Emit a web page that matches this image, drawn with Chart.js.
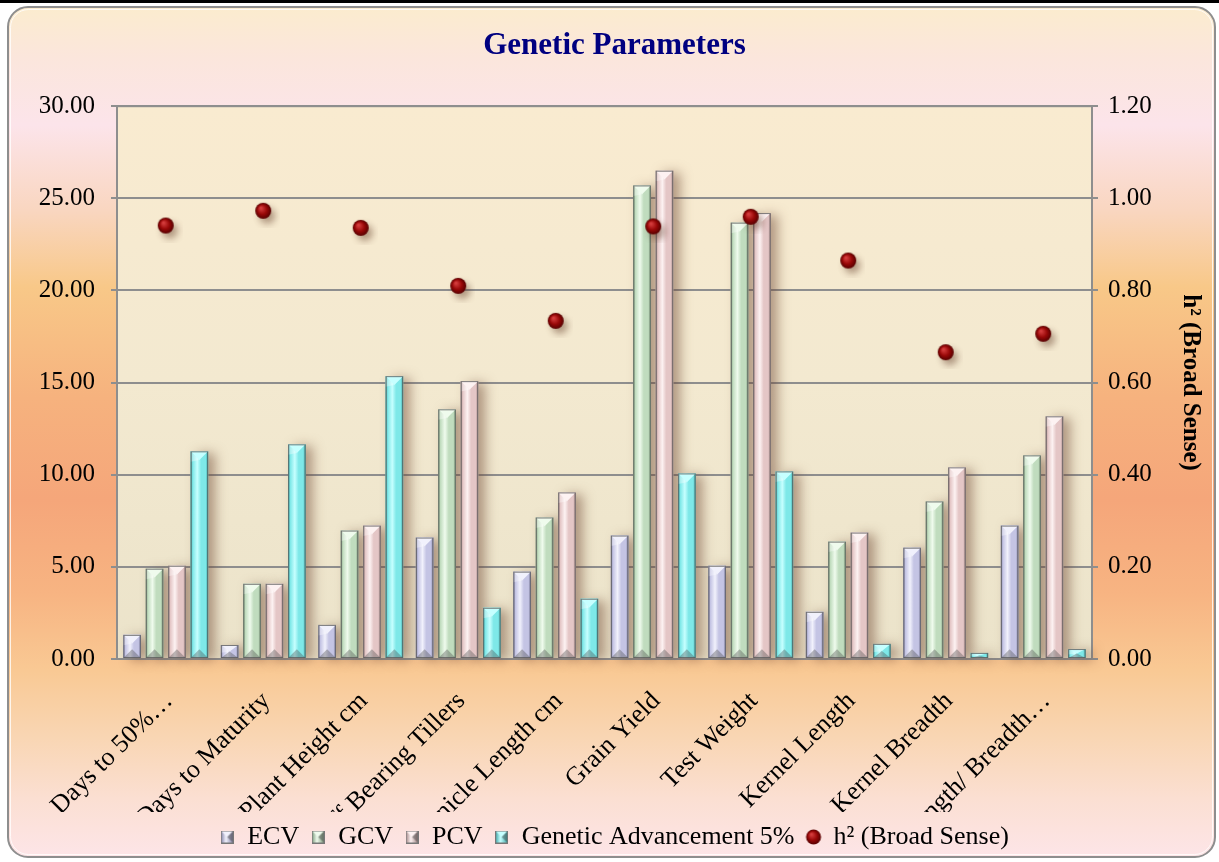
<!DOCTYPE html>
<html><head><meta charset="utf-8">
<script src="https://cdn.jsdelivr.net/npm/chart.js@4.4.1/dist/chart.umd.min.js"></script>
<style>html,body{margin:0;padding:0;background:#fff;}#wrap{width:1219px;height:862px;position:relative;}</style>
</head><body><div id="wrap"><canvas id="c" width="1219" height="862"></canvas></div>
<script>
const categories = ["Days to 50%\u2026", "Days to Maturity", "Plant Height cm", "Eff Bearing Tillers", "Panicle Length cm", "Grain Yield", "Test Weight", "Kernel Length", "Kernel Breadth", "Length/ Breadth\u2026"];
const ecv = [1.31, 0.76, 1.85, 6.59, 4.74, 6.70, 5.06, 2.56, 6.04, 7.24];
const gcv = [4.90, 4.08, 6.97, 13.55, 7.68, 25.70, 23.68, 6.37, 8.55, 11.05];
const pcv = [5.06, 4.08, 7.24, 15.08, 9.04, 26.50, 24.20, 6.86, 10.40, 13.17];
const ga5 = [11.27, 11.65, 15.35, 2.78, 3.27, 10.07, 10.18, 0.82, 0.33, 0.54];
const h2 = [0.941, 0.973, 0.936, 0.810, 0.734, 0.939, 0.960, 0.865, 0.666, 0.706];
const seriesNames = ["ECV", "GCV", "PCV", "Genetic Advancement 5%", "h\u00B2 (Broad Sense)"];

const SERIF = '"Liberation Serif", "Times New Roman", serif';
const barPal = [
  {light:'#f1f1fc', mid:'#c4c4e4', dark:'#7c7ca2'},
  {light:'#effbed', mid:'#c0dcbe', dark:'#749474'},
  {light:'#fdf2f2', mid:'#e4c6c6', dark:'#9c7e7e'},
  {light:'#c6ffff', mid:'#7ee8e8', dark:'#34a0a0'}
];

function sphere(size, r, withShadow){
  const c=document.createElement('canvas'); c.width=c.height=size;
  const g=c.getContext('2d'); const cx=size/2, cy=size/2;
  g.save();
  if(withShadow){ g.shadowColor='rgba(90,50,30,0.45)'; g.shadowBlur=7; g.shadowOffsetX=4; g.shadowOffsetY=5; }
  const rg=g.createRadialGradient(cx-r*0.3, cy-r*0.35, r*0.1, cx, cy, r);
  rg.addColorStop(0,'#d43c3c'); rg.addColorStop(0.55,'#980808'); rg.addColorStop(1,'#560000');
  g.fillStyle=rg; g.beginPath(); g.arc(cx,cy,r,0,Math.PI*2); g.fill(); g.restore();
  return c;
}
function squareIcon(p){
  const s=13, c=document.createElement('canvas'); c.width=c.height=s;
  const g=c.getContext('2d');
  const gr=g.createLinearGradient(0,0,s,0);
  gr.addColorStop(0,p.dark); gr.addColorStop(0.4,p.light); gr.addColorStop(1,p.dark);
  g.fillStyle=gr; g.fillRect(0,0,s,s);
  g.fillStyle=p.light; g.beginPath(); g.moveTo(0,0); g.lineTo(s,0); g.lineTo(s/2,s/2); g.fill();
  g.fillStyle='rgba(60,60,60,0.45)'; g.beginPath(); g.moveTo(s,0); g.lineTo(s,s); g.lineTo(s/2,s/2); g.fill();
  g.strokeStyle='#777'; g.strokeRect(0.5,0.5,s-1,s-1);
  return c;
}
const sphereImg = sphere(34, 8, true);
const sphereLegend = sphere(18, 7.5, false);
const legendIcons = [squareIcon(barPal[0]), squareIcon(barPal[1]), squareIcon(barPal[2]), squareIcon(barPal[3]), sphereLegend];

const decor = {
  id:'decor',
  beforeDraw(chart){
    const ctx=chart.ctx, W=chart.width, H=chart.height;
    ctx.save();
    ctx.fillStyle='#ffffff'; ctx.fillRect(0,0,W,H);
    ctx.fillStyle='#000'; ctx.fillRect(0,0,W,3);
    const g=ctx.createLinearGradient(0,6,0,858);
    [[0,'#fbecce'],[0.06,'#fbe6dc'],[0.14,'#fce4ea'],[0.24,'#f9d6c0'],[0.33,'#f8c888'],[0.46,'#f6b27e'],[0.58,'#f5a67a'],[0.69,'#f7b482'],[0.78,'#f9c994'],[0.86,'#f9d6b4'],[0.93,'#fbdfd2'],[1,'#fde5e8']].forEach(s=>g.addColorStop(s[0],s[1]));
    ctx.beginPath(); ctx.roundRect(8,7,1207,850,20);
    ctx.fillStyle=g; ctx.fill();
    ctx.lineWidth=2; ctx.strokeStyle='#8e8e8e'; ctx.stroke();
    ctx.beginPath(); ctx.roundRect(10.5,9.5,1202,845,18);
    ctx.lineWidth=1; ctx.strokeStyle='rgba(255,255,255,0.8)'; ctx.stroke();
    const a=chart.chartArea;
    const pg=ctx.createLinearGradient(0,a.top,0,a.bottom);
    pg.addColorStop(0,'#f9ebd0'); pg.addColorStop(0.5,'#f3e9d0'); pg.addColorStop(1,'#ebe3ca');
    ctx.fillStyle=pg; ctx.fillRect(a.left,a.top,a.right-a.left,a.bottom-a.top);
    ctx.restore();
  },
  beforeDatasetsDraw(chart){
    const ctx=chart.ctx, a=chart.chartArea;
    ctx.save();
    ctx.strokeStyle='#8e8e8e'; ctx.lineWidth=2;
    ctx.strokeRect(a.left,a.top,a.right-a.left,a.bottom-a.top);
    ctx.shadowColor='rgba(110,70,50,0.5)'; ctx.shadowBlur=12; ctx.shadowOffsetX=7; ctx.shadowOffsetY=2;
    ctx.fillStyle='#d8cfb8';
    for(let d=0; d<4; d++){
      chart.getDatasetMeta(d).data.forEach(el=>{
        const p=el.getProps(['x','y','base','width'],true);
        ctx.fillRect(p.x-p.width/2, p.y, p.width, p.base-p.y);
      });
    }
    ctx.restore();
  },
  afterDatasetDraw(chart, args){
    const d=args.index; if(d>3) return;
    const ctx=chart.ctx, pal=barPal[d];
    ctx.save();
    args.meta.data.forEach(el=>{
      const p=el.getProps(['x','y','base','width'],true);
      const l=p.x-p.width/2, w=p.width, t=p.y, h=p.base-p.y;
      if(h<=0) return;
      const gr=ctx.createLinearGradient(l,0,l+w,0);
      gr.addColorStop(0,pal.dark); gr.addColorStop(0.12,pal.mid); gr.addColorStop(0.38,pal.light);
      gr.addColorStop(0.6,pal.mid); gr.addColorStop(0.86,pal.mid); gr.addColorStop(1,pal.dark);
      ctx.fillStyle=gr; ctx.fillRect(l,t,w,h);
      const bv=Math.min(w*0.5,h/2);
      ctx.fillStyle=pal.light; ctx.beginPath(); ctx.moveTo(l,t); ctx.lineTo(l+w,t); ctx.lineTo(p.x,t+bv); ctx.closePath(); ctx.fill();
      ctx.fillStyle='rgba(255,255,255,0.35)'; ctx.beginPath(); ctx.moveTo(l,t); ctx.lineTo(p.x,t+bv); ctx.lineTo(l,t+bv*1.2); ctx.closePath(); ctx.fill();
      ctx.fillStyle='rgba(70,70,70,0.35)'; ctx.beginPath(); ctx.moveTo(l,p.base); ctx.lineTo(l+w,p.base); ctx.lineTo(p.x,p.base-bv); ctx.closePath(); ctx.fill();
      ctx.strokeStyle='rgba(90,90,90,0.8)'; ctx.lineWidth=1; ctx.strokeRect(l+0.5,t+0.5,w-1,h-1);
    });
    ctx.restore();
  }
};

const barDs = (i, data) => ({
  type:'bar', label:seriesNames[i], data, yAxisID:'y',
  backgroundColor: barPal[i].mid, borderWidth:0,
  categoryPercentage:0.92, barPercentage:0.78
});

new Chart(document.getElementById('c'), {
  data:{
    labels: categories,
    datasets:[
      barDs(0, ecv), barDs(1, gcv), barDs(2, pcv), barDs(3, ga5),
      {type:'line', label:seriesNames[4], data:h2, yAxisID:'y1', showLine:false, order:-1,
       pointStyle:sphereImg, pointRadius:8, backgroundColor:'#8b0000', borderColor:'#8b0000'}
    ]
  },
  options:{
    responsive:false, animation:false,
    layout:{padding:{left:20,right:10,top:27,bottom:2}},
    plugins:{
      title:{display:true, text:'Genetic Parameters', color:'#000080',
        font:{family:SERIF, size:31, weight:'bold'}, padding:{top:0,bottom:42}},
      legend:{position:'bottom',
        labels:{usePointStyle:true, boxWidth:14, boxHeight:14, color:'#000', padding:12,
          font:{family:SERIF, size:26},
          sort:(a,b)=>a.datasetIndex-b.datasetIndex,
          generateLabels(chart){
            const items=Chart.defaults.plugins.legend.labels.generateLabels(chart);
            items.forEach(it=>{ it.pointStyle=legendIcons[it.datasetIndex]; });
            return items;
          }}},
      tooltip:{enabled:false}
    },
    scales:{
      x:{grid:{display:false, drawTicks:false}, border:{display:true, color:'#8e8e8e', width:2},
        ticks:{color:'#000', font:{family:SERIF, size:26}, minRotation:45, maxRotation:45, autoSkip:false, padding:27, labelOffset:3},
        afterFit(s){ s.height=153; }},
      y:{position:'left', min:0, max:30,
        ticks:{stepSize:5, callback:v=>Number(v).toFixed(2), color:'#000', font:{family:SERIF, size:25}, padding:16},
        grid:{color:'#8e8e8e', lineWidth:2, tickLength:6},
        border:{color:'#8e8e8e', width:2},
        afterFit(s){ s.width=97; }},
      y1:{position:'right', min:0, max:1.2,
        ticks:{stepSize:0.2, callback:v=>Number(v).toFixed(2), color:'#000', font:{family:SERIF, size:25}, padding:10},
        grid:{drawOnChartArea:false, color:'#8e8e8e', lineWidth:2, tickLength:6},
        border:{color:'#8e8e8e', width:2},
        title:{display:true, text:'h\u00B2 (Broad Sense)', color:'#000', font:{family:SERIF, size:25, weight:'bold'}, padding:4},
        afterFit(s){ s.width=117; }}
    }
  },
  plugins:[decor]
});
</script></body></html>
